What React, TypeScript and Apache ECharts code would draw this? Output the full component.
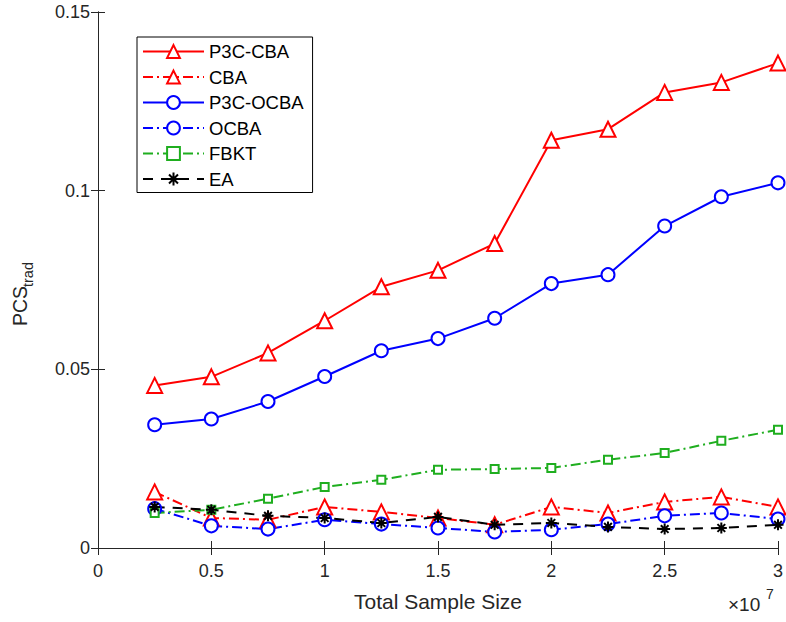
import React, { useEffect, useRef } from 'react';
import * as echarts from 'echarts';

const sampleSizes = [0.25e7, 0.5e7, 0.75e7, 1e7, 1.25e7, 1.5e7, 1.75e7, 2e7, 2.25e7, 2.5e7, 2.75e7, 3e7];
const p3cCba = [0.0455, 0.0479, 0.0546, 0.0636, 0.0731, 0.0777, 0.0852, 0.1141, 0.1172, 0.1275, 0.1303, 0.1357];
const cba = [0.0157, 0.0084, 0.0079, 0.0115, 0.0101, 0.0084, 0.0065, 0.0115, 0.0098, 0.0129, 0.0143, 0.0115];
const p3cOcba = [0.0345, 0.0361, 0.041, 0.048, 0.0552, 0.0586, 0.0643, 0.074, 0.0765, 0.0901, 0.0983, 0.1022];
const ocba = [0.011, 0.0062, 0.0053, 0.0079, 0.0067, 0.0056, 0.0045, 0.0051, 0.0067, 0.009, 0.0098, 0.0081];
const fbkt = [0.0098, 0.0107, 0.0138, 0.0171, 0.0191, 0.0219, 0.0221, 0.0224, 0.0247, 0.0266, 0.03, 0.0331];
const ea = [0.0115, 0.0107, 0.009, 0.0084, 0.007, 0.0087, 0.0065, 0.007, 0.0059, 0.0053, 0.0056, 0.0065];

const xTickMax = 3e7;
const xTickStep = 0.5e7;
const yTickMax = 0.15;
const yTickStep = 0.05;

const FONT = '"Liberation Sans", Arial, Helvetica, sans-serif';
const AXIS = '#262626';
const RED = '#ff0000';
const BLUE = '#0000ff';
const GREEN = '#1fae1f';
const BLACK = '#000000';
const DASHDOT = [10, 4, 2, 4];
const DASHED = [10, 8];
const ASTERISK = 'path://M0,-10L0,10M-10,0L10,0M-7,-7L7,7M-7,7L7,-7';

const pairs = (ys: number[]) => sampleSizes.map((x, i) => [x, ys[i]]);

export default function App() {
  const ref = useRef<HTMLDivElement>(null);
  useEffect(() => {
    if (!ref.current) return;
    const chart = echarts.init(ref.current, null, { renderer: 'svg' });
    const mk = (name: string, ys: number[], color: string, type: any, symbol: string, size: number) => ({
      name,
      type: 'line',
      data: pairs(ys),
      symbol,
      symbolSize: size,
      showSymbol: true,
      lineStyle: { color, width: 2, type },
      itemStyle: { color, borderColor: color, borderWidth: 2 },
      emphasis: { disabled: true },
      z: 3,
    });
    const tickLabel = { color: AXIS, fontSize: 18, fontFamily: FONT };
    const axisLine = { show: true, lineStyle: { color: AXIS, width: 1 } };
    chart.setOption({
      animation: false,
      grid: { left: 98, right: 5, top: 12, bottom: 74 },
      legend: {
        orient: 'vertical',
        left: 137,
        top: 37,
        padding: [5, 9, 4, 5],
        itemWidth: 61,
        itemHeight: 16,
        itemGap: 6.5,
        backgroundColor: '#ffffff',
        borderColor: '#000000',
        borderWidth: 1,
        textStyle: { fontSize: 18.5, fontFamily: FONT, color: '#000000' },
        data: ['P3C-CBA', 'CBA', 'P3C-OCBA', 'OCBA', 'FBKT', 'EA'],
      },
      xAxis: [
        {
          type: 'value',
          min: 0,
          max: xTickMax,
          interval: xTickStep,
          name: 'Total Sample Size',
          nameLocation: 'middle',
          nameGap: 43,
          nameTextStyle: { fontSize: 21, fontFamily: FONT, color: AXIS },
          axisLine,
          axisTick: { show: true, inside: true, length: 7, lineStyle: { color: AXIS } },
          axisLabel: { ...tickLabel, margin: 14, formatter: (v: number) => String(+(v / 1e7).toFixed(2)) },
          splitLine: { show: false },
        },
        {
          type: 'value',
          position: 'top',
          min: 0,
          max: xTickMax,
          interval: xTickStep,
          axisLine,
          axisTick: { show: true, inside: true, length: 7, lineStyle: { color: AXIS } },
          axisLabel: { show: false },
          splitLine: { show: false },
        },
      ],
      yAxis: [
        {
          type: 'value',
          min: 0,
          max: yTickMax,
          interval: yTickStep,
          axisLine,
          axisTick: { show: true, inside: true, length: 7, lineStyle: { color: AXIS } },
          axisLabel: { ...tickLabel, margin: 8, formatter: (v: number) => String(+v.toFixed(2)) },
          splitLine: { show: false },
        },
        {
          type: 'value',
          position: 'right',
          min: 0,
          max: yTickMax,
          interval: yTickStep,
          axisLine,
          axisTick: { show: true, inside: true, length: 7, lineStyle: { color: AXIS } },
          axisLabel: { show: false },
          splitLine: { show: false },
        },
      ],
      series: [
        mk('P3C-CBA', p3cCba, RED, 'solid', 'emptyTriangle', 15),
        mk('CBA', cba, RED, DASHDOT, 'emptyTriangle', 15),
        mk('P3C-OCBA', p3cOcba, BLUE, 'solid', 'emptyCircle', 13),
        mk('OCBA', ocba, BLUE, DASHDOT, 'emptyCircle', 13),
        mk('FBKT', fbkt, GREEN, DASHDOT, 'emptyRect', 8),
        mk('EA', ea, BLACK, DASHED, ASTERISK, 11),
      ],
      graphic: [
        {
          type: 'group',
          x: 20,
          y: 294,
          rotation: Math.PI / 2,
          children: [
            { type: 'text', x: -32, y: 0, style: { text: 'PCS', fontSize: 19.5, fontFamily: FONT, fill: AXIS, textAlign: 'left', textVerticalAlign: 'middle' } },
            { type: 'text', x: 7, y: 8, style: { text: 'trad', fontSize: 14.5, fontFamily: FONT, fill: AXIS, textAlign: 'left', textVerticalAlign: 'middle' } },
          ],
        },
        { type: 'text', x: 728, y: 604, style: { text: '×10', fontSize: 19, fontFamily: FONT, fill: AXIS, textAlign: 'left', textVerticalAlign: 'middle' } },
        { type: 'text', x: 766, y: 594, style: { text: '7', fontSize: 14, fontFamily: FONT, fill: AXIS, textAlign: 'left', textVerticalAlign: 'middle' } },
      ],
    });
    return () => chart.dispose();
  }, []);
  return <div ref={ref} style={{ width: 786, height: 622, position: 'absolute', left: 0, top: 0, background: '#fff' }} />;
}
